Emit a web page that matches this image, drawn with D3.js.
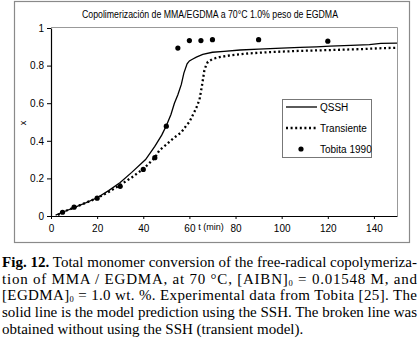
<!DOCTYPE html>
<html><head><meta charset="utf-8">
<script src="https://cdn.jsdelivr.net/npm/d3@7"></script>
<style>
html,body{margin:0;padding:0;background:#fff;}
svg{display:block;}
</style></head>
<body>
<svg id="chart" width="420" height="345"></svg>
<script>
// ---- data ----
const chartTitle = "Copolimerización de MMA/EGDMA a 70°C 1.0% peso de EGDMA";
const xTicks = [0, 20, 40, 60, 80, 100, 120, 140];
const yTicks = [0, 0.2, 0.4, 0.6, 0.8, 1];
const yTickLabels = ["0", "0.2", "0.4", "0.6", "0.8", "1"];
const seriesNames = ["QSSH", "Transiente", "Tobita 1990"];

const qsshT = [2, 5, 10, 15, 20, 25, 30, 35, 41, 45, 48, 50, 52, 53.5, 55, 56.5, 57.6, 59, 60, 61.5, 63, 65.8, 70, 75, 82, 90, 100, 108, 115, 121, 130, 138, 143, 150];
const qsshX = [0.005, 0.02, 0.045, 0.07, 0.097, 0.135, 0.178, 0.232, 0.30, 0.37, 0.43, 0.48, 0.54, 0.60, 0.645, 0.70, 0.76, 0.81, 0.825, 0.835, 0.845, 0.86, 0.871, 0.876, 0.883, 0.888, 0.893, 0.897, 0.90, 0.904, 0.908, 0.912, 0.918, 0.92];

const transT = [3, 5, 10, 15, 20, 25, 30, 35, 40, 45, 47, 50, 53, 56.5, 58.6, 60, 62.2, 63, 64.4, 65.4, 66.5, 67.2, 68, 70, 73, 78, 86, 95, 107, 122, 135, 142, 150];
const transX = [0.005, 0.02, 0.045, 0.07, 0.095, 0.128, 0.165, 0.205, 0.25, 0.31, 0.35, 0.38, 0.413, 0.445, 0.48, 0.50, 0.555, 0.575, 0.62, 0.69, 0.775, 0.80, 0.82, 0.835, 0.845, 0.855, 0.865, 0.872, 0.878, 0.883, 0.888, 0.892, 0.895];

const expT = [5, 10, 20, 30, 40, 45, 50, 55, 60, 65, 70, 90, 120];
const expX = [0.02, 0.047, 0.095, 0.158, 0.248, 0.31, 0.478, 0.893, 0.933, 0.933, 0.938, 0.938, 0.93];

const captionLines = [
  [{t:"Fig. 12.", b:true}, {t:" Total monomer conversion of the free-radical copolymeriza-"}],
  [{t:"tion of MMA / EGDMA, at 70 °C, [AIBN]"}, {t:"0", sub:true}, {t:" = 0.01548 M, and"}],
  [{t:"[EGDMA]"}, {t:"0", sub:true}, {t:" = 1.0 wt. %. Experimental data from Tobita [25]. The"}],
  [{t:"solid line is the model prediction using the SSH. The broken line was"}],
  [{t:"obtained without using the SSH (transient model)."}]
];

// ---- drawing ----
const svg = d3.select("#chart");
svg.append("rect").attr("width",420).attr("height",345).attr("fill","#fff");

// outer frame
svg.append("rect").attr("x",14.5).attr("y",1.5).attr("width",395).attr("height",241)
  .attr("fill","none").attr("stroke","#8a8a8a").attr("stroke-width",1.2);

const L = 51, R = 397, T = 28, B = 216;
const x = d3.scaleLinear().domain([0,150]).range([L,R]);
const y = d3.scaleLinear().domain([0,1]).range([B,T]);

// plot frame top/right (grey)
svg.append("path").attr("d",`M${L},${T-0.5}H${R+0.5}V${B}`).attr("fill","none")
  .attr("stroke","#999").attr("stroke-width",1);

const font = "Liberation Sans, Arial, sans-serif";

// axes
const yAxis = svg.append("g").attr("transform",`translate(${L},0)`)
  .call(d3.axisLeft(y).tickValues(yTicks).tickSize(4).tickSizeOuter(0)
    .tickFormat((d,i)=>yTickLabels[i]));
const xAxis = svg.append("g").attr("transform",`translate(0,${B})`)
  .call(d3.axisBottom(x).tickValues(xTicks).tickSize(3).tickSizeOuter(0)
    .tickFormat(d=>String(d)));
[yAxis,xAxis].forEach(g=>{
  g.selectAll("text").attr("font-family",font).attr("font-size",10).attr("fill","#000");
  g.select(".domain").attr("stroke","#000").attr("stroke-width",1.2);
  g.selectAll(".tick line").attr("stroke","#000");
});
yAxis.selectAll("text").attr("x",-7);
xAxis.selectAll("text").attr("y",9);

// axis labels
svg.append("text").attr("x",211).attr("y",230).attr("text-anchor","middle")
  .attr("font-family",font).attr("font-size",9).text("t (min)");
svg.append("text").attr("transform","translate(26,123) rotate(-90)").attr("text-anchor","middle")
  .attr("font-family",font).attr("font-size",9).text("x");

// title
svg.append("text").attr("x",82).attr("y",18).attr("textLength",256).attr("lengthAdjust","spacingAndGlyphs")
  .attr("font-family",font).attr("font-size",10).text(chartTitle);

// lines
const line = d3.line().x(d=>x(d[0])).y(d=>y(d[1]));
svg.append("path").datum(qsshT.map((t,i)=>[t,qsshX[i]])).attr("d",line)
  .attr("fill","none").attr("stroke","#000").attr("stroke-width",1.3);
svg.append("path").datum(transT.map((t,i)=>[t,transX[i]])).attr("d",line)
  .attr("fill","none").attr("stroke","#000").attr("stroke-width",2.3).attr("stroke-dasharray","2,2.6");

// points
svg.append("g").selectAll("circle").data(expT.map((t,i)=>[t,expX[i]])).join("circle")
  .attr("cx",d=>x(d[0])).attr("cy",d=>y(d[1])).attr("r",2.6).attr("fill","#000");

// legend
const lg = svg.append("g");
lg.append("rect").attr("x",282.5).attr("y",99.5).attr("width",89).attr("height",58)
  .attr("fill","#fff").attr("stroke","#777").attr("stroke-width",1);
lg.append("line").attr("x1",286).attr("x2",317).attr("y1",107).attr("y2",107)
  .attr("stroke","#000").attr("stroke-width",1.3);
lg.append("line").attr("x1",286).attr("x2",318).attr("y1",128).attr("y2",128)
  .attr("stroke","#000").attr("stroke-width",2.3).attr("stroke-dasharray","2,2.6");
lg.append("circle").attr("cx",301).attr("cy",149).attr("r",2.6).attr("fill","#000");
const ly = [107,128,149];
seriesNames.forEach((n,i)=>{
  lg.append("text").attr("x",320).attr("y",ly[i]+3.5).attr("font-family",font).attr("font-size",10).text(n);
});

// caption
const capBase = [267, 284, 300, 317, 334];
captionLines.forEach((parts,i)=>{
  const tx = svg.append("text").attr("x",2).attr("y",capBase[i])
    .attr("font-family","Liberation Serif, Times New Roman, serif").attr("font-size",15).attr("fill","#000")
    .attr("xml:space","preserve");
  if (i < 4) tx.attr("textLength",415).attr("lengthAdjust","spacing");
  let shifted = false;
  parts.forEach(p=>{
    const ts = tx.append("tspan").text(p.t);
    if (p.b) ts.attr("font-weight","bold");
    if (p.sub) { ts.attr("font-size",8.5).attr("dy",2); shifted = true; }
    else if (shifted) { ts.attr("dy",-2); shifted = false; }
  });
});
</script>
</body></html>
